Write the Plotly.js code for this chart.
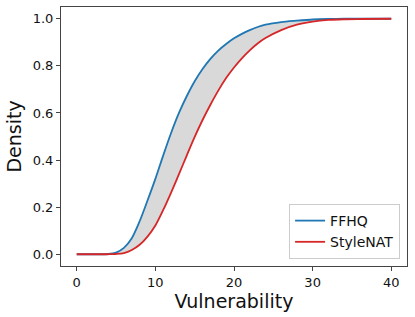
<!DOCTYPE html>
<html>
<head>
<meta charset="utf-8">
<script src="https://cdn.plot.ly/plotly-3.0.1.min.js"></script>
<style>html,body{margin:0;padding:0;background:#fff;}#chart{width:415px;height:317px;}</style>
</head>
<body>
<div id="chart"></div>
<script>
const vulnerability = [0,2,4,5,6,7,8,9,10,11,12,13,14,15,16,17,18,19,20,21,22,23,24,26,28,30,32,34,36,40];
const ffhqCdf = [0,0,0.001,0.007,0.027,0.068,0.14,0.228,0.32,0.42,0.515,0.6,0.672,0.735,0.787,0.83,0.865,0.893,0.917,0.936,0.952,0.965,0.975,0.986,0.992,0.997,0.999,1,1,1];
const styleNatCdf = [0,0,0,0.001,0.005,0.018,0.04,0.075,0.122,0.188,0.262,0.34,0.42,0.498,0.57,0.635,0.695,0.748,0.793,0.832,0.866,0.895,0.918,0.952,0.975,0.988,0.995,0.998,0.999,1];
const seriesNames = ['FFHQ', 'StyleNAT'];
const xTicks = [0,10,20,30,40];
const yTicks = [0,0.2,0.4,0.6,0.8,1.0];

const font = 'DejaVu Sans, sans-serif';
const lineShape = {shape: 'spline', smoothing: 0.8};

const traces = [
  {x: vulnerability, y: styleNatCdf, mode: 'lines', line: {width: 0, ...lineShape}, showlegend: false, hoverinfo: 'skip'},
  {x: vulnerability, y: ffhqCdf, mode: 'lines', fill: 'tonexty', fillcolor: '#d9d9d9', line: {width: 0, ...lineShape}, showlegend: false, hoverinfo: 'skip'},
  {x: vulnerability, y: ffhqCdf, mode: 'lines', name: seriesNames[0], line: {color: '#1f77b4', width: 1.8, ...lineShape}},
  {x: vulnerability, y: styleNatCdf, mode: 'lines', name: seriesNames[1], line: {color: '#d62728', width: 1.8, ...lineShape}}
];

const axisCommon = {
  showgrid: false, zeroline: false, showline: true, mirror: true,
  linecolor: '#444', linewidth: 1, ticks: 'outside', ticklen: 4, tickwidth: 1, tickcolor: '#444',
  tickfont: {family: font, size: 13, color: '#111'}
};

const layout = {
  width: 415, height: 317,
  margin: {l: 61, r: 8, t: 7, b: 51},
  paper_bgcolor: '#fff', plot_bgcolor: '#fff',
  font: {family: font, color: '#111'},
  xaxis: Object.assign({}, axisCommon, {
    range: [-2, 42], tickvals: xTicks, ticktext: xTicks.map(String),
    title: {text: 'Vulnerability', font: {family: font, size: 19, color: '#111'}, standoff: 4}
  }),
  yaxis: Object.assign({}, axisCommon, {
    range: [-0.05, 1.05], tickvals: yTicks, ticktext: yTicks.map(v => v.toFixed(1)),
    title: {text: 'Density', font: {family: font, size: 19, color: '#111'}, standoff: 6}
  }),
  legend: {
    x: 0.98, y: 0.027, xanchor: 'right', yanchor: 'bottom',
    bgcolor: 'rgba(255,255,255,0.8)', bordercolor: '#ccc', borderwidth: 1,
    font: {family: font, size: 14, color: '#111'}, traceorder: 'normal'
  },
  showlegend: true
};

Plotly.newPlot('chart', traces, layout, {staticPlot: true, displayModeBar: false});
</script>
</body>
</html>
